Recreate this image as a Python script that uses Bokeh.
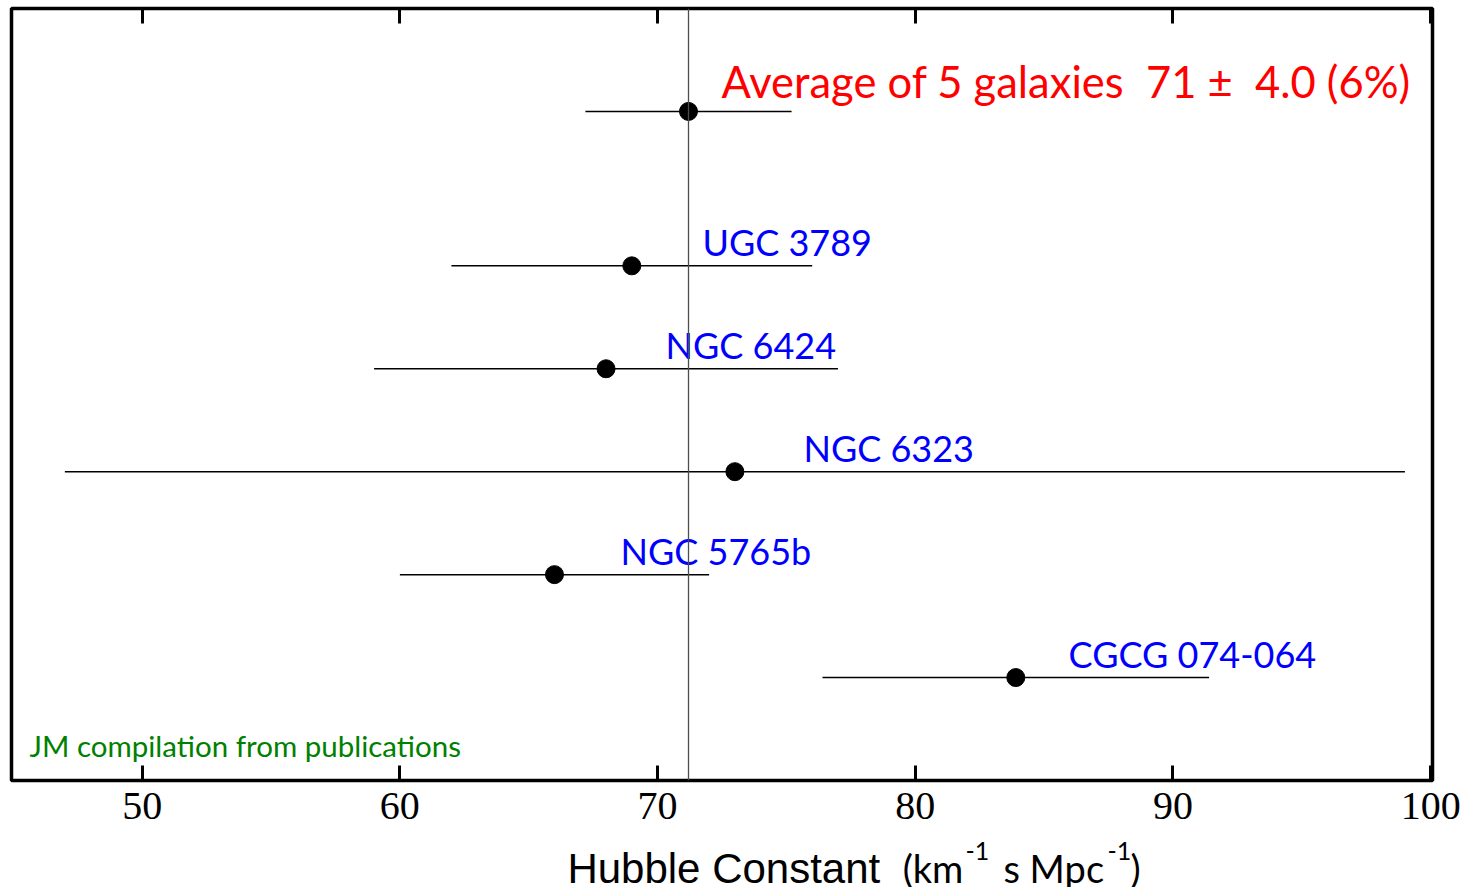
from bokeh.plotting import figure
from bokeh.layouts import column
from bokeh.models import (Range1d, LinearAxis, FixedTicker, Span, ColumnDataSource,
                          CustomJSTickFormatter)
from bokeh.core.properties import value
from bokeh.embed import file_html
from bokeh.resources import INLINE

# Hubble constant measurements (km/s/Mpc) from individual megamaser galaxies
galaxies = ["UGC 3789", "NGC 6424", "NGC 6323", "NGC 5765b", "CGCG 074-064"]
h0 = [69.0, 68.0, 73.0, 66.0, 83.9]
h0_err = [7.0, 9.0, 26.0, 6.0, 7.5]
rows = [5, 4, 3, 2, 1]
label_x = [71.74, 70.31, 75.66, 68.56, 85.95]

# combined value
avg_h0 = 71.2
avg_err = 4.0
avg_row = 6.5
avg_label_x = 72.48
n_gal = len(galaxies)

tick_values = [50, 60, 70, 80, 90, 100]

NB = "\u00a0"
LIFT = -16  # shift that puts the text baseline on the anchor point

src = ColumnDataSource(dict(
    name=galaxies,
    h0=h0,
    lo=[v - e for v, e in zip(h0, h0_err)],
    hi=[v + e for v, e in zip(h0, h0_err)],
    row=rows,
    lx=label_x,
))
avg_txt = (f"Average of {n_gal} galaxies{NB} {avg_h0:.0f} \u00b1{NB} "
           f"{avg_err:.1f} ({100 * avg_err / avg_h0:.0f}%)")
avg_src = ColumnDataSource(dict(
    h0=[avg_h0], lo=[avg_h0 - avg_err], hi=[avg_h0 + avg_err], row=[avg_row],
    lx=[avg_label_x], txt=[avg_txt],
))

xr = Range1d(44.93, 100.07)

p = figure(width=1475, height=840,
           x_range=xr, y_range=Range1d(0, 7.5),
           min_border_left=11, min_border_right=43,
           min_border_top=8, min_border_bottom=60,
           output_backend="svg", toolbar_location=None,
           x_axis_location=None, y_axis_location=None)
p.grid.visible = False
p.background_fill_color = "white"
p.border_fill_color = "white"
p.outline_line_color = "black"
p.outline_line_width = 3.5

# bottom axis: inward ticks, serif labels
xb = LinearAxis(ticker=FixedTicker(ticks=tick_values))
xb.axis_line_color = None
xb.major_tick_in = 15
xb.major_tick_out = 0
xb.major_tick_line_width = 3
xb.major_tick_line_color = "black"
xb.minor_tick_line_color = None
xb.major_label_text_font = "Liberation Serif"
xb.major_label_text_font_size = "40px"
xb.major_label_text_color = "black"
xb.major_label_standoff = 12
p.add_layout(xb, "below")

# top axis: ticks only
xt = LinearAxis(ticker=FixedTicker(ticks=tick_values),
                formatter=CustomJSTickFormatter(code="return ''"))
xt.axis_line_color = None
xt.major_tick_in = 15
xt.major_tick_out = 0
xt.major_tick_line_width = 3
xt.major_tick_line_color = "black"
xt.minor_tick_line_color = None
xt.major_label_text_font_size = "1px"
xt.major_label_standoff = 0
p.add_layout(xt, "above")

# reference line at the combined value
p.add_layout(Span(location=avg_h0, dimension="height",
                  line_color="#4d4d4d", line_width=1.3))

# error bars and points
p.segment(x0="lo", x1="hi", y0="row", y1="row", source=src,
          line_color="black", line_width=1.5)
p.segment(x0="lo", x1="hi", y0="row", y1="row", source=avg_src,
          line_color="black", line_width=1.5)
p.scatter(x="h0", y="row", source=src, size=18, color="black")
p.scatter(x="h0", y="row", source=avg_src, size=18, color="black")

# galaxy names and the combined result
p.text(x="lx", y="row", text="name", source=src, y_offset=LIFT - 8,
       text_font=value("Lato"), text_font_size="36px", text_color="#0000FF",
       text_align="left", text_baseline="alphabetic")
p.text(x="lx", y="row", text="txt", source=avg_src, y_offset=LIFT - 14,
       text_font=value("Lato"), text_font_size="43.5px", text_color="#FF0000",
       text_align="left", text_baseline="alphabetic")

p.text(x=[45.63], y=[0], text=["JM compilation from publications"], y_offset=LIFT - 19,
       text_font=value("Lato"), text_font_size="29.5px", text_color="#008000",
       text_align="left", text_baseline="alphabetic")

# x axis title strip, built from pieces for the superscripts
t = figure(width=1475, height=47, x_range=xr, y_range=Range1d(0, 1),
           min_border_left=11, min_border_right=43,
           min_border_top=0, min_border_bottom=0,
           output_backend="svg", toolbar_location=None,
           x_axis_location=None, y_axis_location=None)
t.grid.visible = False
t.outline_line_color = None
t.background_fill_color = "white"
t.border_fill_color = "white"

base = 0.064
t.text(x=[66.50], y=[base], y_offset=LIFT, text=["Hubble Constant"],
       text_font=value("Liberation Sans"), text_font_size="42px",
       text_color="black", text_align="left", text_baseline="alphabetic")
pieces = [("(km", 79.51, 0, "38px"), ("-1", 81.95, 17, "25px"),
          ("s Mpc", 83.42, 0, "38px"), ("-1", 87.46, 17, "25px"),
          (")", 88.35, 0, "38px")]
for txt, px, dy, fs in pieces:
    t.text(x=[px], y=[base], y_offset=LIFT - dy, text=[txt],
           text_font=value("Lato"), text_font_size=fs,
           text_color="black", text_align="left", text_baseline="alphabetic")

layout = column(p, t, spacing=0)
open("out.html", "w").write(file_html(layout, INLINE))
